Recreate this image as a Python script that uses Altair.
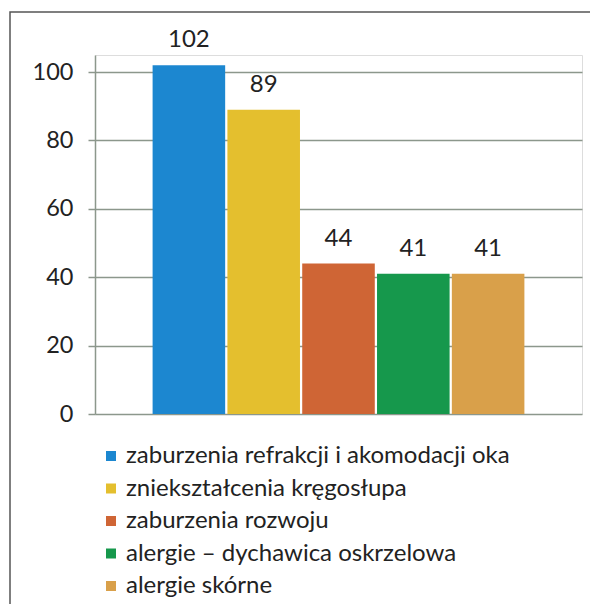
import altair as alt
import pandas as pd

categories = [
    "zaburzenia refrakcji i akomodacji oka",
    "zniekształcenia kręgosłupa",
    "zaburzenia rozwoju",
    "alergie – dychawica oskrzelowa",
    "alergie skórne",
]
values = [102, 89, 44, 41, 41]
colors = ["#1C87D0", "#E4BF2E", "#CF6535", "#16984C", "#D9A04A"]
y_ticks = [0, 20, 40, 60, 80, 100]

df = pd.DataFrame({"cat": categories, "val": values})

FONT = "Lato"
TXT = "#222222"
GRID = "#8c978c"

x_enc = alt.X(
    "cat:N",
    sort=categories,
    axis=None,
    scale=alt.Scale(paddingInner=0.03, paddingOuter=0.77),
)
y_scale = alt.Scale(domain=[0, 105], nice=False)

bars = alt.Chart(df).mark_bar().encode(
    x=x_enc,
    y=alt.Y(
        "val:Q",
        scale=y_scale,
        axis=alt.Axis(
            values=y_ticks,
            title=None,
            grid=True,
            gridColor=GRID,
            gridWidth=1.5,
            domainColor=GRID,
            domainWidth=1.5,
            tickColor=GRID,
            tickWidth=1.5,
            tickSize=7,
            labelPadding=15,
            labelFont=FONT,
            labelFontSize=23.5,
            labelColor=TXT,
        ),
    ),
    color=alt.Color(
        "cat:N",
        scale=alt.Scale(domain=categories, range=colors),
        legend=alt.Legend(
            title=None,
            orient="none",
            legendX=4,
            legendY=389,
            padding=0,
            direction="vertical",
            symbolType="square",
            symbolSize=100,
            symbolStrokeWidth=0,
            labelFont=FONT,
            labelFontSize=24,
            labelColor=TXT,
            labelOffset=3,
            rowPadding=8.5,
            labelLimit=600,
        ),
    ),
)

labels = alt.Chart(df).mark_text(
    font=FONT, fontSize=24, color=TXT, baseline="alphabetic", dy=-18
).encode(x=x_enc, y=alt.Y("val:Q", scale=y_scale), text="val:Q")

frame = alt.Chart(pd.DataFrame({"a": [0]})).mark_rect(
    fill=None, stroke="#555555", strokeWidth=1.5
).encode(
    x=alt.value(-85), x2=alt.value(620), y=alt.value(-43), y2=alt.value(620)
)

chart = (
    alt.layer(frame, bars, labels)
    .properties(
        width=487,
        height=359,
        autosize=alt.AutoSizeParams(type="none"),
        padding={"left": 87, "top": 47, "right": 8, "bottom": 190},
    )
    .configure_view(stroke=None)
    .configure(background="white")
)

chart.save("out.html", embed_options={"renderer": "svg", "actions": False})
